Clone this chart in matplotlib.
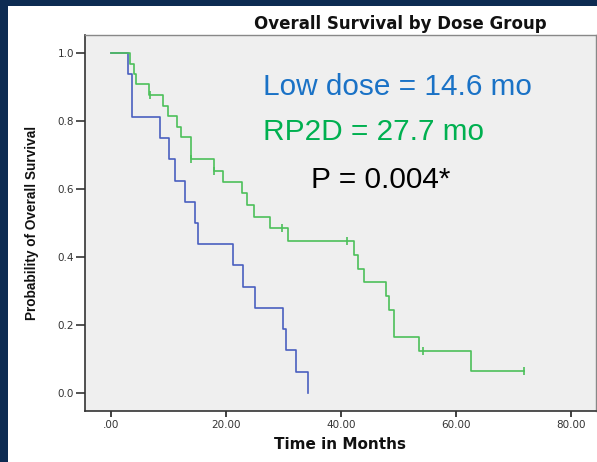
"""Kaplan-Meier overall survival by dose group (recreated chart)."""

import numpy as np
import matplotlib
matplotlib.use("Agg")
import matplotlib.pyplot as plt
from matplotlib.patches import Rectangle

# ---------------------------------------------------------------------------
# Data
# ---------------------------------------------------------------------------
low_times = [0, 3.0, 3.6, 8.6, 10.1, 11.2, 12.8, 14.6, 15.2, 21.3, 22.9,
             25.0, 29.9, 30.5, 32.2, 34.2]
low_surv = [1.0, 0.9375, 0.8125, 0.75, 0.6875, 0.625, 0.5625, 0.5, 0.4375,
            0.375, 0.3125, 0.25, 0.1875, 0.125, 0.0625, 0.0]

rp2d_times = [0, 3.3, 4.05, 4.3, 6.7, 9.0, 9.9, 11.5, 12.2, 14.0, 18.0, 19.5,
              22.7, 23.7, 24.9, 27.7, 30.7, 42.3, 42.9, 44.0, 47.8, 48.4,
              49.2, 53.6, 62.5]
rp2d_surv = [1.0, 0.967, 0.937, 0.908, 0.876, 0.845, 0.815, 0.783, 0.753,
             0.688, 0.654, 0.621, 0.589, 0.553, 0.517, 0.484, 0.448, 0.406,
             0.366, 0.326, 0.284, 0.244, 0.164, 0.124, 0.064]
rp2d_last_followup = 71.8
rp2d_censored = [6.8, 14.0, 18.0, 29.8, 41.0, 54.3, 71.8]

x_ticks = [0, 20, 40, 60, 80]
x_ticklabels = [".00", "20.00", "40.00", "60.00", "80.00"]
y_ticks = [0.0, 0.2, 0.4, 0.6, 0.8, 1.0]

BLUE = "#4a5fc0"
GREEN = "#4cc05a"
NAVY = "#0d2b52"


def surv_at(times, surv, t):
    idx = np.searchsorted(times, t, side="right") - 1
    return np.asarray(surv)[idx]


fig = plt.figure(figsize=(5.97, 4.62), dpi=100)
fig.patch.set_facecolor(NAVY)
# white slide area (navy strip on the left and top)
fig.patches.append(Rectangle((8 / 597, 0), 1, (462 - 6) / 462,
                             transform=fig.transFigure, facecolor="white",
                             edgecolor="none", zorder=-10))

ax = fig.add_axes([85 / 597, 51 / 462, 511 / 597, 376 / 462])
ax.set_zorder(5)
ax.set_facecolor("#efefef")

# --- curves ----------------------------------------------------------------
ax.step(low_times, low_surv, where="post", color=BLUE, linewidth=1.2)

rt = list(rp2d_times) + [rp2d_last_followup]
rs = list(rp2d_surv) + [rp2d_surv[-1]]
ax.step(rt, rs, where="post", color=GREEN, linewidth=1.2)
cens_y = [surv_at(rp2d_times, rp2d_surv, t) for t in rp2d_censored]
ax.plot(rp2d_censored, cens_y, linestyle="none", marker="|",
        markersize=6, markeredgewidth=1.2, color=GREEN)

# --- axes ------------------------------------------------------------------
ax.set_xlim(-4.5, 84.3)
ax.set_ylim(-0.053, 1.053)
ax.set_xticks(x_ticks)
ax.set_xticklabels(x_ticklabels)
ax.set_yticks(y_ticks)
ax.set_yticklabels([f"{v:.1f}" for v in y_ticks])
ax.tick_params(axis="y", direction="out", length=6.5, width=1.3,
               color="#444444", labelsize=7.5, labelcolor="#333333", pad=1.5)
ax.tick_params(axis="x", direction="out", length=4.3, width=1.3,
               color="#333333", labelsize=7.5, labelcolor="#333333", pad=2.5)

for side in ("left", "bottom"):
    ax.spines[side].set_color("#333333")
    ax.spines[side].set_linewidth(1.2)
for side in ("top", "right"):
    ax.spines[side].set_color("#888888")
    ax.spines[side].set_linewidth(1.0)

ax.set_xlabel("Time in Months", fontsize=11, fontweight="bold",
              color="#111111", labelpad=5)
ax.set_ylabel("Probability of Overall Survival",
              family=["Liberation Sans", "DejaVu Sans"],
              fontsize=9.8, fontweight="bold", color="#111111", labelpad=13)

fig.text(400 / 597, 1 - 29 / 462, "Overall Survival by Dose Group",
         ha="center", va="baseline", fontsize=12, fontweight="bold",
         color="#111111")

# --- annotations -----------------------------------------------------------
ann_font = ["Liberation Sans", "DejaVu Sans"]
ax.text(26.4, 0.876, "Low dose = 14.6 mo", color="#1a72c6", fontsize=21.4,
        family=ann_font, va="baseline")
ax.text(26.4, 0.744, "RP2D = 27.7 mo", color="#00b050", fontsize=21.4,
        family=ann_font, va="baseline")
ax.text(34.8, 0.603, "P = 0.004*", color="black", fontsize=21.4,
        family=ann_font, va="baseline")

fig.savefig("out.png", dpi=100, facecolor=fig.get_facecolor())
